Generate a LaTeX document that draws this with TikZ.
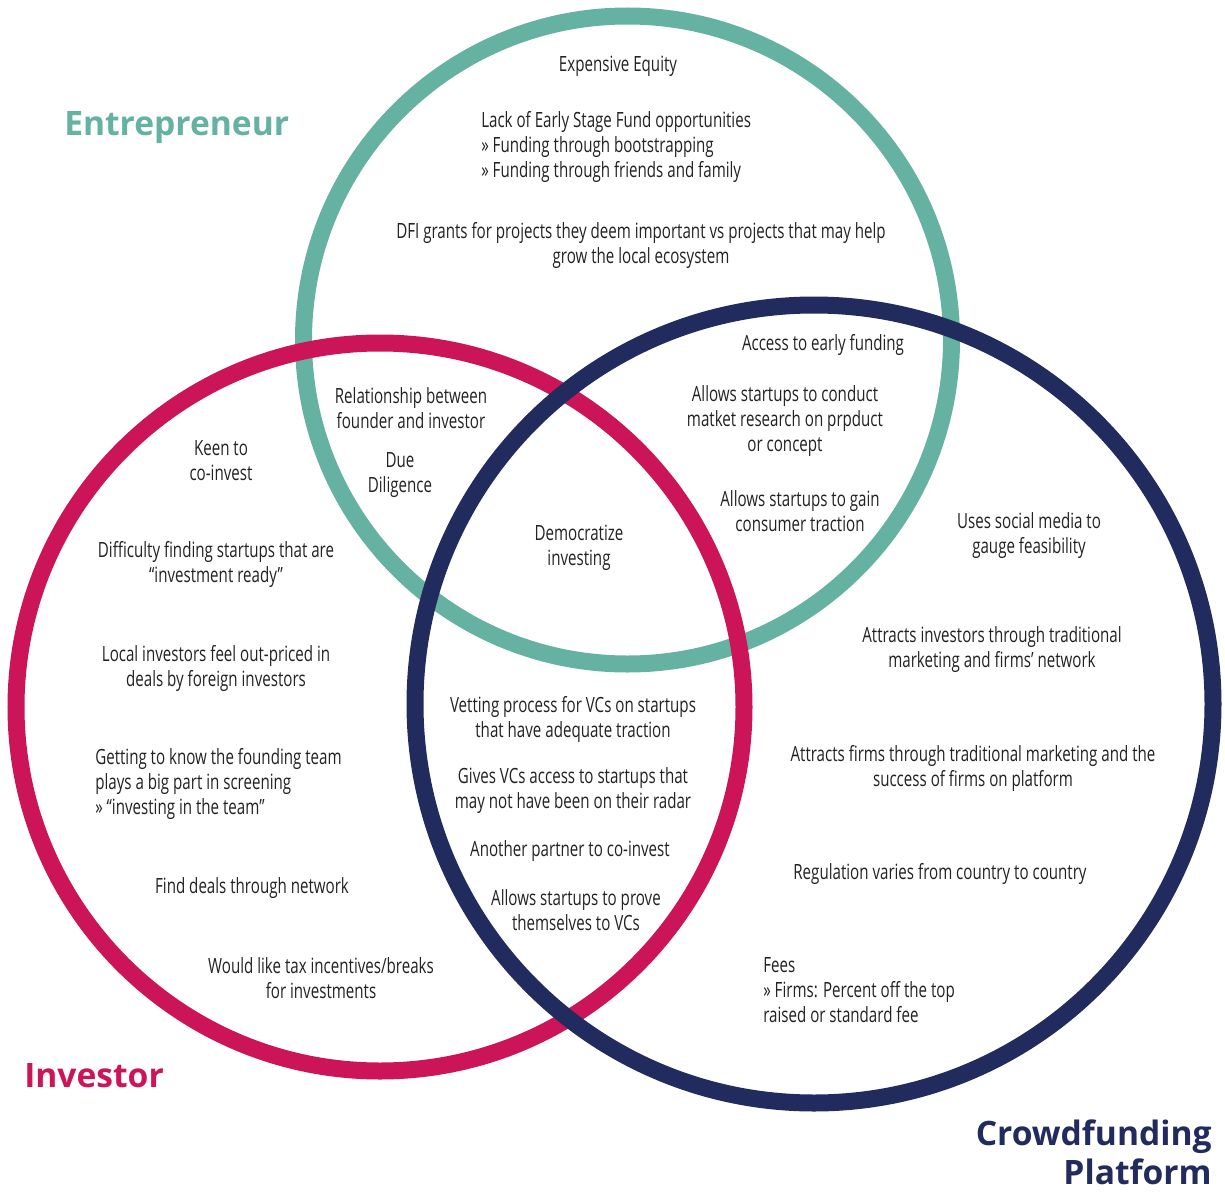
\documentclass[tikz,border=0pt]{standalone}
\usepackage{fontspec}
\newfontfamily\bodyfont[FakeStretch=0.72]{Open Sans}
\newfontfamily\titlefont{Open Sans}
\definecolor{cteal}{HTML}{65B1A2}
\definecolor{ccrimson}{HTML}{CC1559}
\definecolor{cnavy}{HTML}{222B5E}
\definecolor{ctext}{HTML}{222222}
\begin{document}
\begin{tikzpicture}[x=0.75pt,y=-0.75pt,
  ring/.style={line width=12.75pt},
  txt/.style={font=\bodyfont\fontsize{15.75pt}{18.75pt}\selectfont, text=ctext, inner sep=0pt, align=center, yshift=-1.5pt},
  ltxt/.style={txt, align=left, anchor=west},
  ttl/.style={font=\titlefont\bfseries\fontsize{25.2pt}{29pt}\selectfont, inner sep=0pt}]
\useasboundingbox[fill=white] (0,0) rectangle (1225,1192);
% circles
\draw[ring, cteal] (627.5,340) circle[radius=243pt];
\draw[ring, ccrimson] (380,707) circle[radius=273pt];
\draw[ring, cnavy] (814,704) circle[radius=299.25pt];
% titles
\node[ttl, text=cteal, anchor=west] (tEnt) at (64,128) {Entrepreneur};
\node[ttl, text=ccrimson, anchor=west] (tInv) at (24,1076) {Investor};
\node[ttl, text=cnavy, anchor=east, align=right] (tCro) at (1212,1152) {Crowdfunding\\Platform};
% entrepreneur only
\node[txt] (e1) at (618,64) {Expensive Equity};
\node[ltxt] (e2) at (481,145) {Lack of Early Stage Fund opportunities\\» Funding through bootstrapping\\» Funding through friends and family};
\node[txt] (e3) at (641,243.5) {DFI grants for projects they deem important vs projects that may help\\grow the local ecosystem};
% entrepreneur & investor
\node[txt] (ei1) at (411,406) {Relationship between\\founder and investor};
\node[txt] (ei2) at (400,473) {Due\\Diligence};
% investor only
\node[txt] (i1) at (221,458.5) {Keen to\\co-invest};
\node[txt] (i2) at (216,562.5) {Difficulty finding startups that are\\“investment ready”};
\node[txt] (i3) at (216,666) {Local investors feel out-priced in\\deals by foreign investors};
\node[ltxt] (i4) at (95,782) {Getting to know the founding team\\plays a big part in screening\\» “investing in the team”};
\node[txt] (i5) at (252,886) {Find deals through network};
\node[txt] (i6) at (321,976.5) {Would like tax incentives/breaks\\for investments};
% all three
\node[txt] (all) at (579,545.5) {Democratize\\investing};
% entrepreneur & crowdfunding
\node[txt] (ec1) at (823,343) {Access to early funding};
\node[txt] (ec2) at (785,419) {Allows startups to conduct\\matket research on prpduct\\or concept};
\node[txt] (ec3) at (800,509) {Allows startups to gain\\consumer traction};
% crowdfunding only
\node[txt] (c1) at (1029,533.5) {Uses social media to\\gauge feasibility};
\node[txt] (c2) at (992,647.5) {Attracts investors through traditional\\marketing and firms’ network};
\node[txt] (c3) at (973,766.5) {Attracts firms through traditional marketing and the\\success of firms on platform};
\node[txt] (c4) at (940,872) {Regulation varies from country to country};
\node[ltxt] (c5) at (763,988) {Fees\\» Firms: Percent off the top\\raised or standard fee};
% investor & crowdfunding
\node[txt] (ic1) at (573,717.5) {Vetting process for VCs on startups\\that have adequate traction};
\node[txt] (ic2) at (573,789) {Gives VCs access to startups that\\may not have been on their radar};
\node[txt] (ic3) at (570,849) {Another partner to co-invest};
\node[txt] (ic4) at (576,908) {Allows startups to prove\\themselves to VCs};
\end{tikzpicture}
\end{document}
